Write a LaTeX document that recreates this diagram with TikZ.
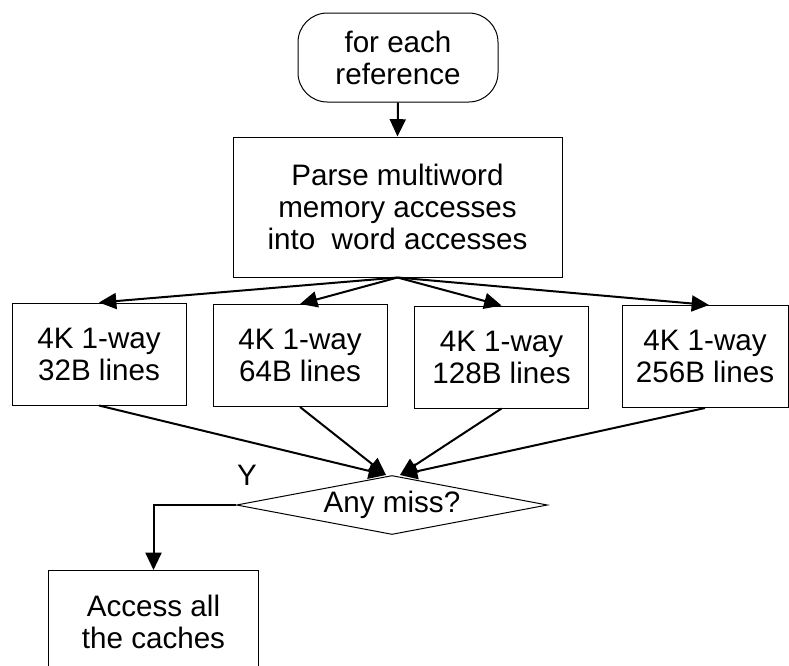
\documentclass[tikz,border=0pt]{standalone}
\usepackage{fontspec}
\setmainfont{Liberation Sans}
\usetikzlibrary{arrows.meta,shapes.geometric}

\tikzset{
  boxnode/.style={draw, line width=0.75pt, align=center, inner sep=0.75pt,
    font=\fontsize{22.2}{24}\selectfont},
  flowarrow/.style={line width=1.5pt, -{Triangle[length=13pt,width=12pt]}},
}

\begin{document}
\begin{tikzpicture}[x=0.75pt,y=0.75pt,yscale=-1,xscale=1]
\useasboundingbox (0,0) rectangle (789,665);
\clip (0,0) rectangle (789,665);

%Shape: Rounded Rect [id:start]
\node [boxnode, rounded corners=22pt, minimum width=150pt, minimum height=66.75pt] (start) at (398,57.5) {for each\\reference};
%Shape: Rectangle [id:parse]
\node [boxnode, minimum width=246.75pt, minimum height=105pt] (parse) at (397.5,207) {Parse multiword\\memory accesses\\into\ \ word accesses};

%Shape: Rectangle [id:cacheA]
\node [boxnode, minimum width=130.5pt, minimum height=76.5pt] (cacheA) at (99,354) {4K 1-way\\32B lines};
%Shape: Rectangle [id:cacheB]
\node [boxnode, minimum width=130.5pt, minimum height=76.5pt] (cacheB) at (300,355.5) {4K 1-way\\64B lines};
%Shape: Rectangle [id:cacheC]
\node [boxnode, minimum width=130.5pt, minimum height=76.5pt] (cacheC) at (501.5,357) {4K 1-way\\128B lines};
%Shape: Rectangle [id:cacheD]
\node [boxnode, minimum width=124.5pt, minimum height=76.5pt] (cacheD) at (705,356.5) {4K 1-way\\256B lines};

%Shape: Diamond [id:miss]
\node [boxnode, diamond, aspect=5.27, inner sep=0pt, minimum width=233.25pt, minimum height=44.25pt] (miss) at (392,505) {Any miss?};
%Shape: Rectangle [id:access]
\node [boxnode, anchor=north, minimum width=157.5pt, minimum height=76.5pt] (access) at (153.5,570) {Access all\\the caches};

% Text Node
\node [font=\fontsize{22.2}{24}\selectfont, inner sep=0.75pt] (ylabel) at (247,475) {Y};

%Straight Lines
\draw [flowarrow] (start.south) -- (parse.north);
\draw [flowarrow] (parse.south) -- (cacheA.north);
\draw [flowarrow] (parse.south) -- (cacheB.north);
\draw [flowarrow] (parse.south) -- (cacheC.north);
\draw [flowarrow] (parse.south) -- ([xshift=3pt]cacheD.north);

\draw [flowarrow] (cacheA.south) -- ([xshift=-4.5pt]miss.north);
\draw [flowarrow] (cacheB.south) -- ([xshift=-4.5pt]miss.north);
\draw [flowarrow] (cacheC.south) -- ([xshift=6pt]miss.north);
\draw [flowarrow] (cacheD.south) -- ([xshift=6pt]miss.north);

\draw [flowarrow] (miss.west) -| (access.north);

\end{tikzpicture}
\end{document}
